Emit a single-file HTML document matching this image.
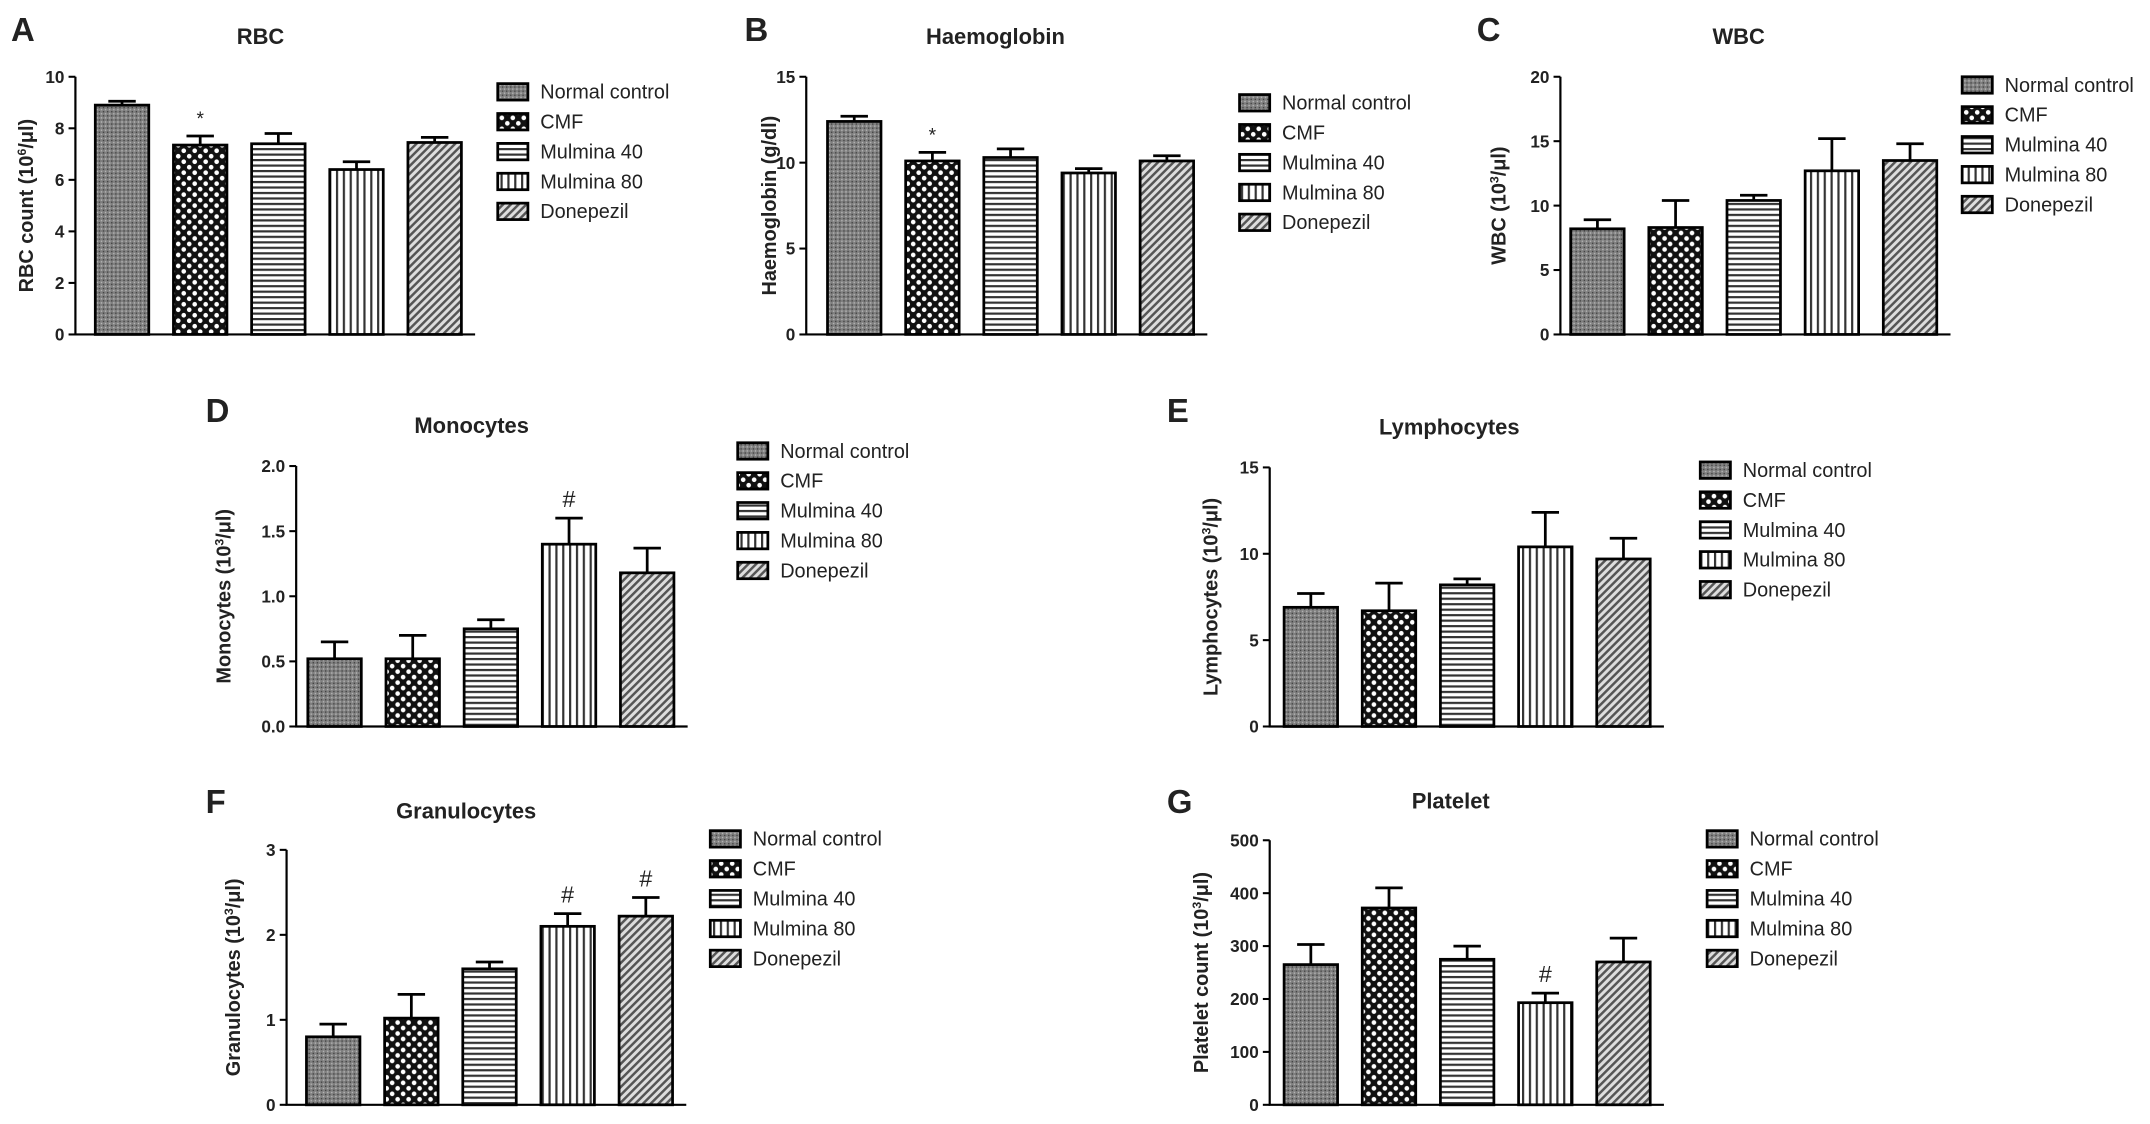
<!DOCTYPE html>
<html><head><meta charset="utf-8"><style>
html,body{margin:0;padding:0;background:#fff}
svg{display:block}
text{font-family:"Liberation Sans",Arial,sans-serif;fill:#222}
</style></head><body>
<svg id="fig" width="2150" height="1124" viewBox="0 0 1568 820" preserveAspectRatio="none" xmlns="http://www.w3.org/2000/svg">
<defs>
<pattern id="pNormal" width="3" height="3" patternUnits="userSpaceOnUse"><rect width="3" height="3" fill="#7f7f7f"/><rect width="1" height="1" fill="#444"/><rect x="1.5" y="1.5" width="1" height="1" fill="#bbb"/></pattern>
<pattern id="pCMF" width="8" height="8" patternUnits="userSpaceOnUse"><rect width="8" height="8" fill="#111"/><circle cx="2" cy="2" r="1.7" fill="#fff"/><circle cx="6" cy="6" r="1.7" fill="#fff"/></pattern>
<pattern id="pM40" width="4" height="4" patternUnits="userSpaceOnUse"><rect width="4" height="4" fill="#fff"/><rect y="0" width="4" height="1.6" fill="#333"/></pattern>
<pattern id="pM80" width="5" height="5" patternUnits="userSpaceOnUse"><rect width="5" height="5" fill="#fff"/><rect x="0" width="1.6" height="5" fill="#333"/></pattern>
<pattern id="pDon" width="4" height="4" patternUnits="userSpaceOnUse" patternTransform="rotate(45)"><rect width="4" height="4" fill="#ddd"/><rect width="1.8" height="4" fill="#555"/></pattern>
</defs>
</svg>
<script>
const groups = ["Normal control","CMF","Mulmina 40","Mulmina 80","Donepezil"];
const patterns = ["pNormal","pCMF","pM40","pM80","pDon"];

const rbcMeans = [8.9, 7.35, 7.4, 6.4, 7.45];
const rbcErr = [0.15, 0.35, 0.4, 0.3, 0.2];
const rbcMarks = ["", "*", "", "", ""];
const rbcTicks = [0, 2, 4, 6, 8, 10];

const hbMeans = [12.4, 10.1, 10.3, 9.4, 10.1];
const hbErr = [0.3, 0.5, 0.5, 0.25, 0.3];
const hbMarks = ["", "*", "", "", ""];
const hbTicks = [0, 5, 10, 15];

const wbcMeans = [8.2, 8.3, 10.4, 12.7, 13.5];
const wbcErr = [0.7, 2.1, 0.4, 2.5, 1.3];
const wbcMarks = ["", "", "", "", ""];
const wbcTicks = [0, 5, 10, 15, 20];

const monoMeans = [0.52, 0.52, 0.75, 1.4, 1.18];
const monoErr = [0.13, 0.18, 0.07, 0.2, 0.19];
const monoMarks = ["", "", "", "#", ""];
const monoTicks = ["0.0", "0.5", "1.0", "1.5", "2.0"];

const lymMeans = [6.9, 6.7, 8.2, 10.4, 9.7];
const lymErr = [0.8, 1.6, 0.35, 2.0, 1.2];
const lymMarks = ["", "", "", "", ""];
const lymTicks = [0, 5, 10, 15];

const granMeans = [0.8, 1.02, 1.6, 2.1, 2.22];
const granErr = [0.15, 0.28, 0.08, 0.15, 0.22];
const granMarks = ["", "", "", "#", "#"];
const granTicks = [0, 1, 2, 3];

const pltMeans = [265, 372, 275, 193, 270];
const pltErr = [38, 38, 25, 18, 45];
const pltMarks = ["", "", "", "#", ""];
const pltTicks = [0, 100, 200, 300, 400, 500];

const NS = "http://www.w3.org/2000/svg";
const svg = document.getElementById("fig");
function mk(tag, attrs, parent, txt){
  const e = document.createElementNS(NS, tag);
  for (const k in attrs) e.setAttribute(k, attrs[k]);
  if (txt !== undefined) e.textContent = txt;
  (parent || svg).appendChild(e);
  return e;
}

function panel(cfg){
  const g = mk("g", {});
  
  
  const maxV = parseFloat(cfg.ticks[cfg.ticks.length-1]);
  const y = v => cfg.base - v / maxV * (cfg.base - cfg.top);
  const bw = 39, step = 57;
  const xc = i => cfg.ax + cfg.off + i * step;
  const L = mk("text", {x: cfg.lx, y: cfg.ly, "font-size": 24, "font-weight": "bold", fill: "#000"}, g, cfg.letter);
  
  
  const T = mk("text", {x: cfg.tx, y: cfg.ty, "font-size": 16, "font-weight": "bold", "text-anchor": "middle"}, g, cfg.title);
  
  
  const yl = mk("text", {x: 0, y: 0, "font-size": 14.5, "font-weight": "bold", "text-anchor": "middle",
    transform: `translate(${cfg.ylx},${(cfg.top + cfg.base) / 2}) rotate(-90)`}, g);
  
  
  yl.innerHTML = cfg.ylabel;
  const endX = xc(4) + bw / 2 + 10;
  cfg.means.forEach((m, i) => {
    const x0 = xc(i) - bw / 2;
    const top = y(m + cfg.err[i]);
    const eb = mk("path", {d: `M${xc(i)} ${y(m)}V${top}M${xc(i) - 10} ${top}H${xc(i) + 10}`, stroke: "#000", "stroke-width": 2, fill: "none"}, g);
    
    
    const r = mk("rect", {x: x0, y: y(m), width: bw, height: cfg.base - y(m), fill: `url(#${patterns[i]})`, stroke: "#000", "stroke-width": 2}, g);
    
    
    if (cfg.marks[i]) {
      const s = mk("text", {x: xc(i), y: top - 8, "font-size": cfg.marks[i] === "#" ? 17 : 14, "text-anchor": "middle"}, g, cfg.marks[i]);
      
      
    }
  });
  const axis = mk("path", {d: `M${cfg.ax} ${cfg.top}V${cfg.base}H${endX}`, stroke: "#000", "stroke-width": 1.6, fill: "none"}, g);
  
  
  cfg.ticks.forEach(t => {
    const v = parseFloat(t);
    const tk = mk("line", {x1: cfg.ax - 5, x2: cfg.ax, y1: y(v), y2: y(v), stroke: "#000", "stroke-width": 1.5}, g);
    
    
    const tl = mk("text", {x: cfg.ax - 8, y: y(v) + 4.5, "font-size": 12.5, "font-weight": "bold", "text-anchor": "end"}, g, String(t));
    
    
  });
  groups.forEach((n, i) => {
    const yy = cfg.legY + i * 21.8;
    const lb = mk("rect", {x: cfg.legX, y: yy - 6, width: 22, height: 12, fill: `url(#${patterns[i]})`, stroke: "#000", "stroke-width": 2}, g);
    
    
    const lt = mk("text", {x: cfg.legX + 31, y: yy + 5, "font-size": 14.5, fill: "#333"}, g, n);
    
    
  });
}

const sup = s => `(10<tspan baseline-shift="super" font-size="9">${s}</tspan>/μl)`;
panel({id:"rbc", letter:"A", lx:8, ly:30, title:"RBC", tx:190, ty:32, ax:55, off:34, top:56, base:244, ylx:24, ylabel:"RBC count " + sup("6"),
  means:rbcMeans, err:rbcErr, marks:rbcMarks, ticks:rbcTicks, legX:363, legY:67});
panel({id:"haemoglobin", letter:"B", lx:543, ly:30, title:"Haemoglobin", tx:726, ty:32, ax:588, off:35, top:56, base:244, ylx:566, ylabel:"Haemoglobin (g/dl)",
  means:hbMeans, err:hbErr, marks:hbMarks, ticks:hbTicks, legX:904, legY:75});
panel({id:"wbc", letter:"C", lx:1077, ly:30, title:"WBC", tx:1268, ty:32, ax:1138, off:27, top:56, base:244, ylx:1098, ylabel:"WBC " + sup("3"),
  means:wbcMeans, err:wbcErr, marks:wbcMarks, ticks:wbcTicks, legX:1431, legY:62});
panel({id:"monocytes", letter:"D", lx:150, ly:308, title:"Monocytes", tx:344, ty:316, ax:216, off:28, top:340, base:530, ylx:168, ylabel:"Monocytes " + sup("3"),
  means:monoMeans, err:monoErr, marks:monoMarks, ticks:monoTicks, legX:538, legY:329});
panel({id:"lymphocytes", letter:"E", lx:851, ly:308, title:"Lymphocytes", tx:1057, ty:317, ax:926, off:30, top:341, base:530, ylx:888, ylabel:"Lymphocytes " + sup("3"),
  means:lymMeans, err:lymErr, marks:lymMarks, ticks:lymTicks, legX:1240, legY:343});
panel({id:"granulocytes", letter:"F", lx:150, ly:593, title:"Granulocytes", tx:340, ty:597, ax:209, off:34, top:620, base:806, ylx:175, ylabel:"Granulocytes " + sup("3"),
  means:granMeans, err:granErr, marks:granMarks, ticks:granTicks, legX:518, legY:612});
panel({id:"platelet", letter:"G", lx:851, ly:593, title:"Platelet", tx:1058, ty:590, ax:926, off:30, top:613, base:806, ylx:881, ylabel:"Platelet count " + sup("3"),
  means:pltMeans, err:pltErr, marks:pltMarks, ticks:pltTicks, legX:1245, legY:612});
</script>
</body></html>
